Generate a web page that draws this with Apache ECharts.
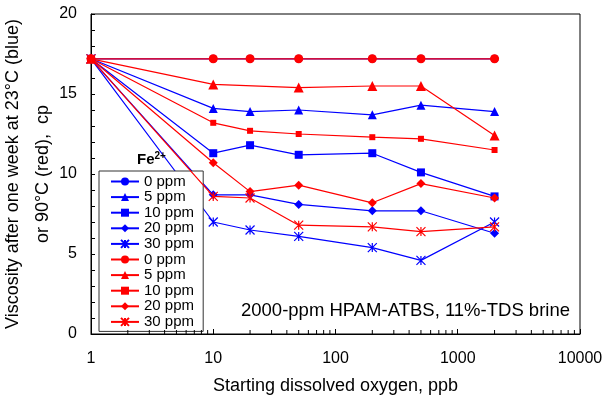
<!DOCTYPE html>
<html>
<head>
<meta charset="utf-8">
<script src="https://cdn.jsdelivr.net/npm/echarts@6/dist/echarts.min.js"></script>
<style>
  html, body { margin: 0; padding: 0; background: #fff; }
  #chart { width: 605px; height: 400px; }
</style>
</head>
<body>
<div id="chart"></div>
<script>
// dissolved oxygen (ppb) per series
const oxygenAll = [1, 10, 20, 50, 200, 500, 2000];
const oxygenRed5 = [1, 10, 50, 200, 500, 2000];

// viscosity (cp) after one week at 23 C (blue)
const blue0 = [17.2, 17.2, 17.2, 17.2, 17.2, 17.2, 17.2];
const blue5 = [17.2, 14.1, 13.9, 14.0, 13.7, 14.3, 13.9];
const blue10 = [17.2, 11.3, 11.8, 11.2, 11.3, 10.1, 8.6];
const blue20 = [17.2, 8.7, 8.7, 8.1, 7.7, 7.7, 6.3];
const blue30 = [17.2, 7.0, 6.5, 6.1, 5.4, 4.6, 7.0];

// viscosity (cp) after one week at 90 C (red)
const red0 = [17.2, 17.2, 17.2, 17.2, 17.2, 17.2, 17.2];
const red5 = [17.2, 15.6, 15.4, 15.5, 15.5, 12.4];
const red10 = [17.2, 13.2, 12.7, 12.5, 12.3, 12.2, 11.5];
const red20 = [17.2, 10.7, 8.9, 9.3, 8.2, 9.4, 8.5];
const red30 = [17.2, 8.6, 8.5, 6.8, 6.7, 6.4, 6.7];

const xTickLabels = [1, 10, 100, 1000, 10000];
const xMinorTicks = [2, 3, 4, 5, 6, 7, 8, 9, 20, 30, 40, 50, 60, 70, 80, 90,
  200, 300, 400, 500, 600, 700, 800, 900, 2000, 3000, 4000, 5000, 6000, 7000, 8000, 9000];

const BLUE = '#0000ff';
const RED = '#ff0000';
const asterisk = 'path://M0,0L10,10M0,10L10,0M5,0L5,10';

const pair = (xs, ys) => xs.map((x, i) => [x, ys[i]]);

function mk(name, color, xs, ys, symbol, size, star) {
  const s = {
    name: name,
    type: 'line',
    data: pair(xs, ys),
    symbol: symbol,
    symbolSize: size,
    showAllSymbol: true,
    color: color,
    lineStyle: { color: color, width: 1.2 },
    itemStyle: { color: color },
    emphasis: { disabled: true },
    z: color === RED ? 4 : 3,
  };
  if (star) {
    s.itemStyle = { color: 'none', borderColor: color, borderWidth: 1.2 };
  }
  return s;
}

const series = [
  mk('0 ppm', BLUE, oxygenAll, blue0, 'circle', 8),
  mk('5 ppm', BLUE, oxygenAll, blue5, 'triangle', 9),
  mk('10 ppm', BLUE, oxygenAll, blue10, 'rect', 8),
  mk('20 ppm', BLUE, oxygenAll, blue20, 'diamond', 9),
  mk('30 ppm', BLUE, oxygenAll, blue30, asterisk, 9, true),
  mk('0 ppm ', RED, oxygenAll, red0, 'circle', 9),
  mk('5 ppm ', RED, oxygenRed5, red5, 'triangle', 10),
  mk('10 ppm ', RED, oxygenAll, red10, 'rect', 6),
  mk('20 ppm ', RED, oxygenAll, red20, 'diamond', 9),
  mk('30 ppm ', RED, oxygenAll, red30, asterisk, 9, true),
  {
    type: 'custom',
    silent: true,
    z: 5,
    data: xMinorTicks.map(v => [v, 0]),
    encode: { x: 0, y: 1 },
    renderItem: function (params, api) {
      const p = api.coord([api.value(0), 0]);
      return {
        type: 'line',
        shape: { x1: p[0], y1: p[1], x2: p[0], y2: p[1] - 4 },
        style: { stroke: '#000', lineWidth: 1 }
      };
    }
  }
];

const chart = echarts.init(document.getElementById('chart'));
chart.setOption({
  animation: false,
  backgroundColor: '#fff',
  textStyle: { fontFamily: 'Liberation Sans, Arial, sans-serif', color: '#000' },
  grid: {
    left: 91, right: 25, top: 14, bottom: 66,
    containLabel: false,
    outerBoundsMode: 'none',
    show: true, borderColor: '#000', borderWidth: 1
  },
  title: [
    {
      text: '{a|Fe}{b|2+}',
      left: 137, top: 151, padding: 0,
      textStyle: {
        rich: {
          a: { fontSize: 15, fontWeight: 'bold', color: '#000', fontFamily: 'Liberation Sans' },
          b: { fontSize: 10, fontWeight: 'bold', color: '#000', verticalAlign: 'top', padding: [0, 0, 8, 0], fontFamily: 'Liberation Sans' }
        }
      }
    },
    {
      text: '2000-ppm HPAM-ATBS, 11%-TDS brine',
      right: 35, top: 301, padding: 0,
      textStyle: { fontSize: 18.5, fontWeight: 'normal', color: '#000', fontFamily: 'Liberation Sans' }
    }
  ],
  legend: {
    orient: 'vertical',
    left: 99, top: 171,
    data: series.filter(s => s.name).map(s => s.name),
    backgroundColor: '#fff',
    borderColor: '#333',
    borderWidth: 1,
    padding: [3, 5, 2, 11],
    itemWidth: 28,
    itemHeight: 10,
    itemGap: 0.6,
    selectedMode: false,
    textStyle: { fontSize: 15, lineHeight: 15, color: '#000', fontFamily: 'Liberation Sans' }
  },
  xAxis: {
    type: 'log',
    logBase: 10,
    min: xTickLabels[0],
    max: xTickLabels[xTickLabels.length - 1],
    name: 'Starting dissolved oxygen, ppb',
    nameLocation: 'middle',
    nameGap: 43,
    nameMoveOverlap: false,
    nameTextStyle: { fontSize: 18, color: '#000' },
    axisLine: { lineStyle: { color: '#000', width: 1 } },
    axisTick: { inside: true, length: 5, lineStyle: { color: '#000' } },
    axisLabel: { fontSize: 16, color: '#000', margin: 17, formatter: v => String(Math.round(v)) },
    splitLine: { show: false }
  },
  yAxis: {
    type: 'value',
    min: 0, max: 20, interval: 5,
    name: 'Viscosity after one week at 23°C (blue)\nor 90°C (red),  cp',
    nameLocation: 'middle',
    nameGap: 33,
    nameMoveOverlap: false,
    nameTextStyle: { fontSize: 18, color: '#000', lineHeight: 30 },
    axisLine: { show: true, lineStyle: { color: '#000', width: 1 } },
    axisTick: { inside: true, length: 4, lineStyle: { color: '#000' } },
    minorTick: { show: true, splitNumber: 5, length: 4, lineStyle: { color: '#000' } },
    axisLabel: { fontSize: 16, color: '#000', margin: 14 },
    splitLine: { show: false }
  },
  series: series
});
</script>
</body>
</html>
